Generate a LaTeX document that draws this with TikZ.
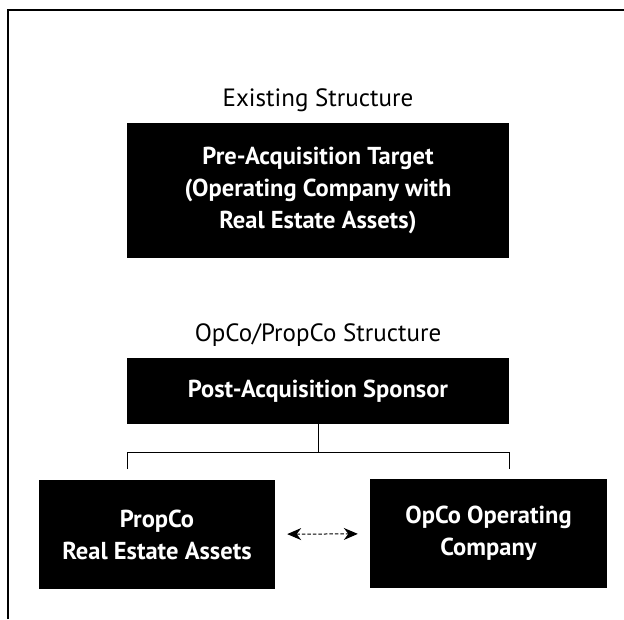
\documentclass[tikz,border=0pt]{standalone}
\usepackage{fontspec}
\setmainfont{PT Sans}
\usetikzlibrary{arrows.meta}

\begin{document}
\begin{tikzpicture}[x=1pt, y=-1pt,
  entity/.style={fill=black, text=white, align=center, inner sep=0pt,
    font=\bfseries\fontsize{24.5}{32}\selectfont},
  caption/.style={font=\fontsize{25}{28}\selectfont},
  branch/.style={line width=1pt},
  swap/.style={arrows={Stealth[length=14pt, width=12pt]-Stealth[length=14pt, width=12pt]},
    line width=1pt, dash pattern=on 3.5pt off 2pt, shorten <=12pt, shorten >=12pt}]
\useasboundingbox (0,0) rectangle (624,619);
\draw[line width=1.6pt] (8,619) -- (8,10) -- (624,10);

% existing structure
\node  (existing)[caption]  at (318,100) {Existing Structure};
\node  (target)[entity, minimum width=382pt, minimum height=135pt]  at (318,190.5)
  {Pre-Acquisition Target\\(Operating Company with\\Real Estate Assets)};

% opco/propco structure
\node  (opcopropco)[caption]  at (318,335) {OpCo/PropCo Structure};
\node  (sponsor)[entity, minimum width=382pt, minimum height=66pt]  at (318,391) {Post-Acquisition Sponsor};
\node  (propco)[entity, minimum width=236pt, minimum height=109pt]  at (157,534.5) {PropCo\\Real Estate Assets};
\node  (opco)[entity, minimum width=237pt, minimum height=109pt]  at (488.5,533.5) {OpCo Operating\\Company};

\coordinate (split) at (318,452);
\coordinate (leftcorner) at (127,452);
\coordinate (rightcorner) at (509,452);
\coordinate (leftend) at (127,469);
\coordinate (rightend) at (509,469);

\draw[branch] (sponsor) -- (split);
\draw[branch] (leftend) -- (leftcorner) -- (rightcorner) -- (rightend);
\draw[swap] (propco) -- (opco);
\end{tikzpicture}
\end{document}
